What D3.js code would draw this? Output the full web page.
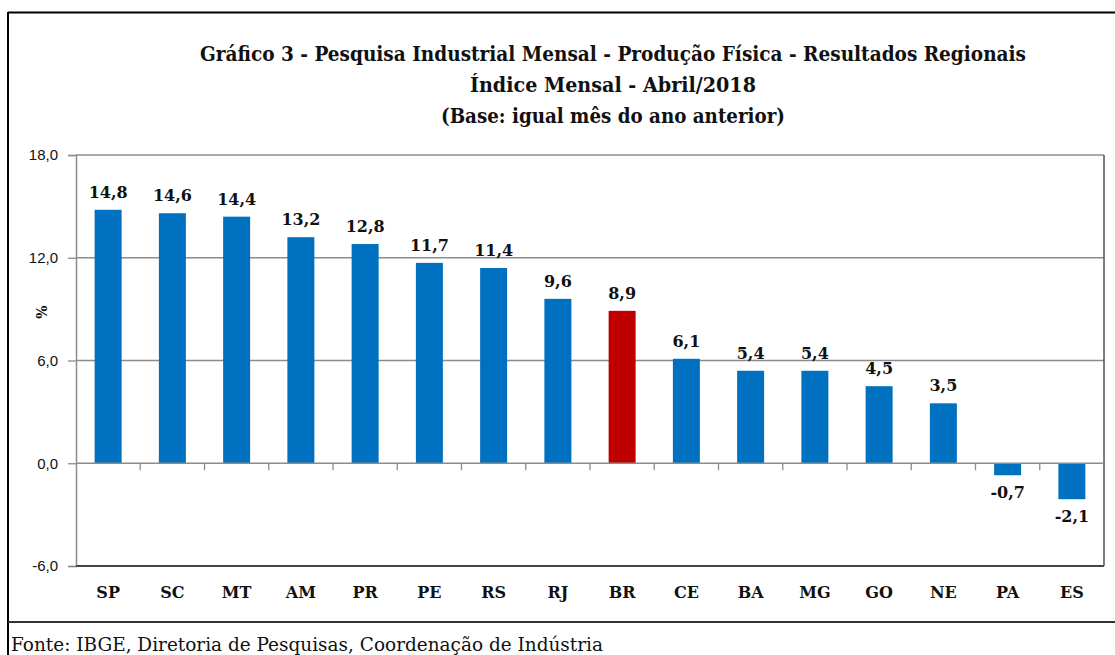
<!DOCTYPE html>
<html><head><meta charset="utf-8">
<script src="https://cdn.jsdelivr.net/npm/d3@7"></script>
<style>
body{margin:0;background:#fff;}
svg{display:block;}
text{font-family:"DejaVu Serif",serif;}
</style></head>
<body>
<svg id="c" width="1115" height="655"></svg>
<script>
const categories = ["SP","SC","MT","AM","PR","PE","RS","RJ","BR","CE","BA","MG","GO","NE","PA","ES"];
const values = [14.8,14.6,14.4,13.2,12.8,11.7,11.4,9.6,8.9,6.1,5.4,5.4,4.5,3.5,-0.7,-2.1];
const highlight = ["BR"];
const yTicks = [-6,0,6,12,18];
const titleLines = ["Gráfico 3 - Pesquisa Industrial Mensal - Produção Física - Resultados Regionais","Índice Mensal - Abril/2018","(Base: igual mês do ano anterior)"];
const yLabel = "%";
const source = "Fonte: IBGE, Diretoria de Pesquisas, Coordenação de Indústria";

const svg = d3.select("#c");
const L=76,R=1104,T=155,B=566;
const x = d3.scaleBand().domain(categories).range([L,R]).paddingInner(0.58).paddingOuter(0.29);
const y = d3.scaleLinear().domain([-6,18]).range([B,T]);
const fmt = v => d3.format(".1f")(v).replace(".",",").replace("−","-");

// outer frame
svg.append("line").attr("x1",8).attr("x2",1115).attr("y1",12.5).attr("y2",12.5).attr("stroke","#000").attr("stroke-width",2);
svg.append("line").attr("x1",8).attr("x2",8).attr("y1",12).attr("y2",655).attr("stroke","#000").attr("stroke-width",2);
svg.append("line").attr("x1",8).attr("x2",1115).attr("y1",622).attr("y2",622).attr("stroke","#333").attr("stroke-width",2);

// title
svg.append("g").selectAll("text").data(titleLines).join("text")
  .attr("x",613).attr("y",(d,i)=>61+i*31).attr("text-anchor","middle")
  .attr("font-size",20).attr("font-weight","bold").attr("fill","#111")
  .attr("textLength",(d,i)=>[826,286,344][i]).attr("lengthAdjust","spacingAndGlyphs")
  .text(d=>d);

// gridlines
svg.append("g").selectAll("line").data([6,12,18]).join("line")
  .attr("x1",L).attr("x2",R).attr("y1",d=>y(d)).attr("y2",d=>y(d))
  .attr("stroke","#8c8c8c").attr("stroke-width",1.3);

// y axis
const ya = svg.append("g").attr("transform",`translate(${L},0)`)
  .call(d3.axisLeft(y).tickValues(yTicks).tickSize(8).tickPadding(10).tickFormat(fmt));
ya.select(".domain").attr("stroke","#8c8c8c").attr("stroke-width",1.5);
ya.selectAll(".tick line").attr("stroke","#8c8c8c").attr("stroke-width",1.3);
ya.selectAll(".tick text").style("font-family","'Liberation Sans',Arial,sans-serif").style("font-size","15px").attr("fill","#111");

// plot bottom & right border
svg.append("line").attr("x1",L).attr("x2",R).attr("y1",B).attr("y2",B).attr("stroke","#444").attr("stroke-width",2);
svg.append("line").attr("x1",R).attr("x2",R).attr("y1",T).attr("y2",B).attr("stroke","#555").attr("stroke-width",1.5);

// bars
svg.append("g").selectAll("rect").data(categories).join("rect")
  .attr("x",d=>x(d)).attr("width",x.bandwidth())
  .attr("y",(d,i)=>y(Math.max(0,values[i])))
  .attr("height",(d,i)=>Math.abs(y(values[i])-y(0)))
  .attr("fill",d=>highlight.includes(d)?"#C00000":"#0070C0");

// zero line with ticks
const za = svg.append("g").attr("transform",`translate(0,${y(0)})`);
za.append("line").attr("x1",L).attr("x2",R).attr("stroke","#8c8c8c").attr("stroke-width",1.5);
za.selectAll("line.t").data(d3.range(1,categories.length)).join("line").attr("class","t")
  .attr("x1",i=>L+i*(R-L)/categories.length).attr("x2",i=>L+i*(R-L)/categories.length)
  .attr("y1",0).attr("y2",7).attr("stroke","#8c8c8c").attr("stroke-width",1.3);

// value labels
svg.append("g").selectAll("text").data(categories).join("text")
  .attr("x",d=>x(d)+x.bandwidth()/2)
  .attr("y",(d,i)=>values[i]>=0 ? y(values[i])-12 : y(values[i])+23)
  .attr("text-anchor","middle").style("font-size","16px").attr("font-weight","bold").attr("fill","#111")
  .text((d,i)=>fmt(values[i]));

// category labels
svg.append("g").selectAll("text").data(categories).join("text")
  .attr("x",d=>x(d)+x.bandwidth()/2).attr("y",598)
  .attr("text-anchor","middle").style("font-size","16px").attr("font-weight","bold").attr("fill","#111")
  .text(d=>d);

// y label
svg.append("text").attr("transform","translate(47,312) rotate(-90)").attr("text-anchor","middle")
  .style("font-size","14px").attr("font-weight","bold").attr("fill","#111").text(yLabel);

// source
svg.append("text").attr("x",11).attr("y",651).style("font-size","18px").attr("fill","#111")
  .attr("textLength",592).attr("lengthAdjust","spacingAndGlyphs").text(source);
</script>
</body></html>
